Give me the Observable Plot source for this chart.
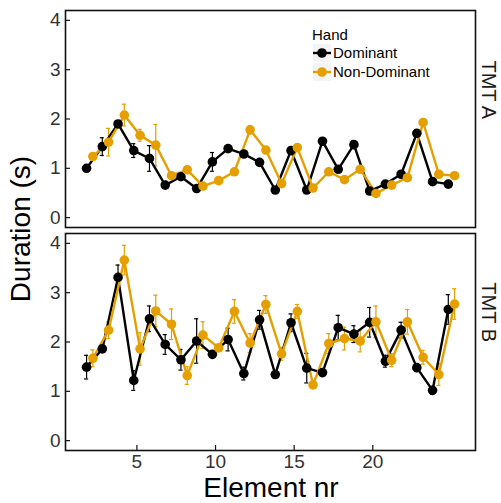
<!DOCTYPE html>
<html>
<head>
<meta charset="utf-8">
<script src="https://cdn.jsdelivr.net/npm/d3@7"></script>
<script src="https://cdn.jsdelivr.net/npm/@observablehq/plot@0.6"></script>
<style>
  html, body { margin: 0; padding: 0; background: #fff; }
  #chart { width: 501px; height: 503px; }
</style>
</head>
<body>
<div id="chart"></div>
<script>
// ---- Data ----
const panels = ["TMT A", "TMT B"];
const hands = ["Dominant", "Non-Dominant"];
const elements = [2,3,4,5,6,7,8,9,10,11,12,13,14,15,16,17,18,19,20,21,22,23,24,25];

const tmtA_dom    = [1.00,1.44,1.90,1.36,1.20,0.66,0.83,0.59,1.13,1.40,1.29,1.12,0.56,1.36,0.56,1.55,0.98,1.48,0.54,0.68,0.88,1.71,0.73,0.68];
const tmtA_dom_se = [0.04,0.18,0.06,0.14,0.26,0.04,0.04,0.04,0.19,0.05,0.07,0.04,0.04,0.07,0.04,0.06,0.04,0.08,0.04,0.04,0.04,0.07,0.04,0.04];
const tmtA_nd     = [1.24,1.53,2.08,1.67,1.47,0.85,0.97,0.64,0.75,0.93,1.78,1.37,0.69,1.42,0.60,0.93,0.77,0.98,0.49,0.66,0.81,1.93,0.88,0.85];
const tmtA_nd_se  = [0.04,0.28,0.22,0.12,0.42,0.04,0.04,0.04,0.04,0.04,0.08,0.04,0.04,0.04,0.04,0.04,0.04,0.04,0.04,0.04,0.04,0.04,0.04,0.04];

const tmtB_dom    = [1.49,1.86,3.31,1.22,2.47,1.95,1.64,2.02,1.75,2.05,1.36,2.45,1.34,2.39,1.47,1.38,2.29,2.16,2.40,1.61,2.24,1.48,1.02,2.66];
const tmtB_dom_se = [0.24,0.05,0.25,0.20,0.26,0.20,0.21,0.45,0.05,0.23,0.13,0.19,0.07,0.18,0.30,0.05,0.25,0.17,0.30,0.12,0.16,0.08,0.08,0.30];
const tmtB_nd     = [1.67,2.24,3.66,1.86,2.63,2.36,1.32,2.14,1.88,2.62,1.98,2.76,1.76,2.62,1.13,1.97,2.07,2.02,2.41,1.63,2.41,1.69,1.34,2.77];
const tmtB_nd_se  = [0.17,0.17,0.30,0.33,0.32,0.31,0.18,0.27,0.05,0.24,0.19,0.18,0.13,0.14,0.06,0.20,0.23,0.22,0.32,0.13,0.25,0.14,0.22,0.31];

const yTicks = [0, 1, 2, 3, 4];
const xTicks = [5, 10, 15, 20];

// ---- Build the table ----
const series = [
  {panel: "TMT A", hand: "Dominant", v: tmtA_dom, se: tmtA_dom_se},
  {panel: "TMT B", hand: "Dominant", v: tmtB_dom, se: tmtB_dom_se},
  {panel: "TMT A", hand: "Non-Dominant", v: tmtA_nd, se: tmtA_nd_se},
  {panel: "TMT B", hand: "Non-Dominant", v: tmtB_nd, se: tmtB_nd_se}
];
const dodge = {"Dominant": -0.2, "Non-Dominant": 0.2};
const rows = [];
for (const s of series) {
  elements.forEach((e, i) => {
    rows.push({panel: s.panel, hand: s.hand, el: e, xd: e + dodge[s.hand], y: s.v[i], se: s.se[i]});
  });
}

const colors = ["#000000", "#E69F00"];
const font = "'Liberation Sans', Arial, Helvetica, sans-serif";

const plot = Plot.plot({
  width: 501,
  height: 503,
  marginLeft: 65,
  marginRight: 26,
  marginTop: 10,
  marginBottom: 53,
  style: {fontFamily: font, background: "#fff", overflow: "visible"},
  x: {domain: [0.46, 26.53], label: null},
  y: {domain: [-0.2, 4.2], label: null},
  fy: {domain: panels, paddingInner: 0.027, paddingOuter: 0, axis: null, label: null},
  color: {domain: hands, range: colors},
  marks: [
    Plot.frame({stroke: "#111", strokeWidth: 1.6}),
    // y ticks (inward) and labels
    Plot.axisY({ticks: yTicks, tickSize: 5, dx: 5, fill: "none", stroke: "#111", strokeWidth: 1.2, label: null}),
    Plot.axisY({ticks: yTicks, tickFormat: "d", tickSize: 0, tickPadding: 5, fontSize: 19, fill: "#333", label: null}),
    // x ticks (inward) and labels
    Plot.axisX({ticks: xTicks, tickSize: 5, dy: -5, fill: "none", stroke: "#111", strokeWidth: 1.2, label: null}),
    Plot.axisX({ticks: xTicks, tickFormat: "d", tickSize: 0, tickPadding: 4, fontSize: 19, fill: "#333", label: null}),
    // error bars
    Plot.ruleX(rows, {x: "xd", y1: d => d.y - d.se, y2: d => d.y + d.se, fy: "panel", stroke: "hand", strokeWidth: 1.2}),
    Plot.ruleY(rows, {y: d => d.y + d.se, x1: d => d.xd - 0.13, x2: d => d.xd + 0.13, fy: "panel", stroke: "hand", strokeWidth: 1.2}),
    Plot.ruleY(rows, {y: d => d.y - d.se, x1: d => d.xd - 0.13, x2: d => d.xd + 0.13, fy: "panel", stroke: "hand", strokeWidth: 1.2}),
    // lines
    Plot.line(rows, {x: "xd", y: "y", z: "hand", fy: "panel", stroke: "hand", strokeWidth: 2.4}),
    // points
    Plot.dot(rows, {x: "xd", y: "y", fy: "panel", fill: "hand", r: 4.8}),
    // facet strip labels
    Plot.text(panels, {fy: d => d, text: d => d, frameAnchor: "right", dx: 13, rotate: 90, fontSize: 20, fill: "#1a1a1a"})
  ]
});

document.getElementById("chart").appendChild(plot);

// ---- Axis titles and legend ----
const svg = d3.select(plot);
svg.append("text")
  .attr("transform", "translate(30,229) rotate(-90)")
  .attr("text-anchor", "middle")
  .attr("font-family", font)
  .attr("font-size", 28)
  .attr("fill", "#000")
  .text("Duration (s)");
svg.append("text")
  .attr("x", 271).attr("y", 497)
  .attr("text-anchor", "middle")
  .attr("font-family", font)
  .attr("font-size", 28)
  .attr("fill", "#000")
  .text("Element nr");

const lg = svg.append("g").attr("font-family", font).attr("text-anchor", "start");
lg.append("text").attr("x", 312).attr("y", 35).attr("dy", "0.35em")
  .attr("text-anchor", "start")
  .attr("font-size", 15).attr("fill", "#000").text("Hand");
hands.forEach((h, i) => {
  const cy = 53 + i * 19;
  lg.append("rect").attr("x", 313).attr("y", cy - 9).attr("width", 18).attr("height", 18).attr("fill", "#f4f4f4");
  lg.append("line").attr("x1", 313).attr("x2", 331).attr("y1", cy).attr("y2", cy)
    .attr("stroke", colors[i]).attr("stroke-width", 2.4);
  lg.append("circle").attr("cx", 322).attr("cy", cy).attr("r", 4.8).attr("fill", colors[i]);
  lg.append("text").attr("x", 333).attr("y", cy).attr("dy", "0.35em")
    .attr("text-anchor", "start")
    .attr("font-size", 15).attr("fill", "#000").text(h);
});
</script>
</body>
</html>
